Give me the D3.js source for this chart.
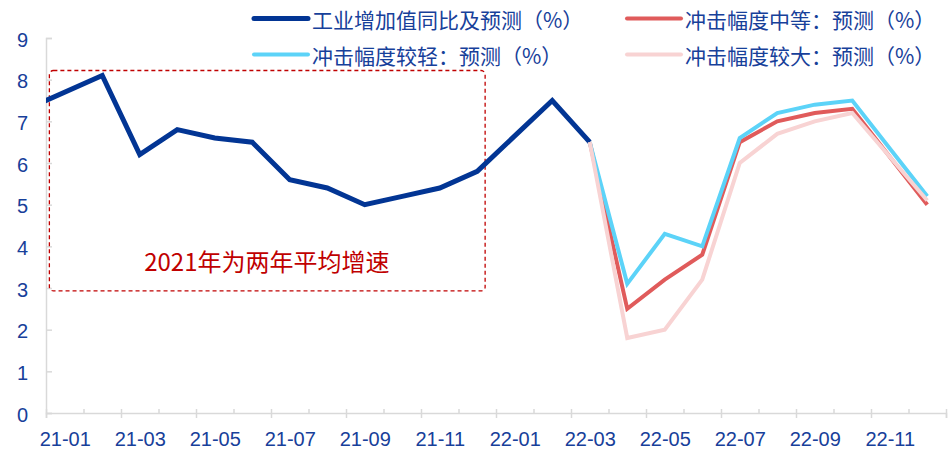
<!DOCTYPE html>
<html>
<head>
<meta charset="utf-8">
<script src="https://cdn.jsdelivr.net/npm/d3@7"></script>
<style>
  body { margin: 0; background: #fff; }
  svg { display: block; }
  text { font-family: "Liberation Sans", Arial, sans-serif; }
  .cjk { font-family: "Noto Sans CJK SC", "Noto Sans", sans-serif; }
</style>
</head>
<body>
<svg id="chart" width="949" height="450"></svg>
<script>
// ---------- data ----------
var months = ['21-01','21-02','21-03','21-04','21-05','21-06','21-07','21-08','21-09','21-10','21-11','21-12',
              '22-01','22-02','22-03','22-04','22-05','22-06','22-07','22-08','22-09','22-10','22-11','22-12'];
var yTicks = [0,1,2,3,4,5,6,7,8,9];

// actual (2021 = two-year average); Jan figures are merged into Feb
var actualMonths = ['20-12','21-02','21-03','21-04','21-05','21-06','21-07','21-08','21-09','21-10','21-11','21-12','22-02','22-03'];
var actualValues = [7.3, 8.1, 6.2, 6.8, 6.6, 6.5, 5.6, 5.4, 5.0, 5.2, 5.4, 5.8, 7.5, 6.5];

var forecastMonths = ['22-03','22-04','22-05','22-06','22-07','22-08','22-09','22-10','22-12'];
var mediumValues = [6.5, 2.5, 3.2, 3.8, 6.5, 7.0, 7.2, 7.3, 5.0];
var mildValues   = [6.5, 3.1, 4.3, 4.0, 6.6, 7.2, 7.4, 7.5, 5.2];
var severeValues = [6.5, 1.8, 2.0, 3.2, 6.0, 6.7, 7.0, 7.2, 5.1];

var seriesNames = ['工业增加值同比及预测（%）','冲击幅度中等：预测（%）','冲击幅度较轻：预测（%）','冲击幅度较大：预测（%）'];
var seriesColors = ['#023594','#E05B5B','#5CD3F8','#F8D3D3'];
var noteText = '2021年为两年平均增速';

// ---------- scales ----------
function monthIndex(m){
  var p = m.split('-');
  return (+p[0]-21)*12 + (+p[1]-1);
}

var svg = d3.select('#chart');
var x = d3.scaleLinear().domain([-0.5, months.length-0.5]).range([46, 946]);
var y = d3.scaleLinear().domain([0, 9]).range([413, 38]);

var axisColor = '#D9D9D9';
var labelColor = '#17409A';

svg.append('defs').append('clipPath').attr('id','plot')
  .append('rect').attr('x',x(-0.5)).attr('y',0).attr('width',x(months.length-0.5)-x(-0.5)).attr('height',450);

// ---------- y axis ----------
var yAxis = svg.append('g')
  .attr('transform','translate('+x(-0.5)+',0)')
  .call(d3.axisLeft(y).tickValues(yTicks).tickSize(-6).tickPadding(18));
yAxis.select('.domain').attr('stroke',axisColor).attr('stroke-width',1.5);
yAxis.selectAll('.tick line').attr('stroke',axisColor).attr('stroke-width',1.5);
yAxis.selectAll('text').attr('fill',labelColor).style('font-size','20px').attr('dy','0.4em');

// ---------- x axis ----------
var majorTicks = d3.range(-0.5, months.length, 2);
var minorTicks = d3.range(0.5, months.length, 2);

var xMajor = svg.append('g')
  .attr('transform','translate(0,'+y(0)+')')
  .call(d3.axisBottom(x).tickValues(majorTicks).tickSize(5).tickFormat(''));
xMajor.select('.domain').attr('stroke',axisColor).attr('stroke-width',1.5);
xMajor.selectAll('.tick line').attr('y1',-4).attr('stroke',axisColor).attr('stroke-width',1.5);

var xMinor = svg.append('g')
  .attr('transform','translate(0,'+y(0)+')')
  .call(d3.axisTop(x).tickValues(minorTicks).tickSize(4).tickFormat(''));
xMinor.select('.domain').remove();
xMinor.selectAll('.tick line').attr('stroke',axisColor).attr('stroke-width',1.5);

var xLabels = svg.append('g')
  .attr('transform','translate(0,'+y(0)+')')
  .call(d3.axisBottom(x).tickValues(d3.range(0, months.length, 2)).tickSize(0).tickFormat(function(d){ return months[d]; }));
xLabels.select('.domain').remove();
xLabels.selectAll('text').attr('fill',labelColor).style('font-size','20px').attr('y',32.5).attr('dy',null);

// ---------- annotation box ----------
svg.append('rect')
  .attr('x',x(-0.41)).attr('y',y(8.22))
  .attr('width',x(11.21)-x(-0.41)).attr('height',y(2.93)-y(8.22))
  .attr('rx',4).attr('fill','none')
  .attr('stroke','#C00000').attr('stroke-width',1.3).attr('stroke-dasharray','4,3');

svg.append('text').attr('class','cjk')
  .attr('x',x(5.39)).attr('y',y(3.4))
  .attr('text-anchor','middle')
  .attr('fill','#C00000').style('font-size','24px')
  .text(noteText);

// ---------- lines ----------
var line = d3.line().x(function(d){ return x(monthIndex(d.m)); }).y(function(d){ return y(d.v); });
var plot = svg.append('g').attr('clip-path','url(#plot)');

function series(ms, vs){ return ms.map(function(m,i){ return {m:m, v:vs[i]}; }); }

plot.append('path').datum(series(actualMonths, actualValues))
  .attr('d',line).attr('fill','none').attr('stroke',seriesColors[0]).attr('stroke-width',5);
plot.append('path').datum(series(forecastMonths, mediumValues))
  .attr('d',line).attr('fill','none').attr('stroke',seriesColors[1]).attr('stroke-width',4);
plot.append('path').datum(series(forecastMonths, mildValues))
  .attr('d',line).attr('fill','none').attr('stroke',seriesColors[2]).attr('stroke-width',4);
plot.append('path').datum(series(forecastMonths, severeValues))
  .attr('d',line).attr('fill','none').attr('stroke',seriesColors[3]).attr('stroke-width',4);

// ---------- legend ----------
var legendPos = [[254,18.5],[627,18.5],[254,54.5],[627,54.5]];
var legend = svg.append('g');
seriesNames.forEach(function(name,s){
  var g = legend.append('g').attr('transform','translate('+legendPos[s][0]+','+legendPos[s][1]+')');
  g.append('line').attr('x1',0).attr('x2',54).attr('y1',0).attr('y2',0)
    .attr('stroke',seriesColors[s]).attr('stroke-width',s===0?5:4).attr('stroke-linecap','round');
  g.append('text').attr('class','cjk').attr('x',58).attr('y',0)
    .attr('dominant-baseline','central')
    .attr('fill',labelColor).style('font-size','21px')
    .text(name);
});
</script>
</body>
</html>
